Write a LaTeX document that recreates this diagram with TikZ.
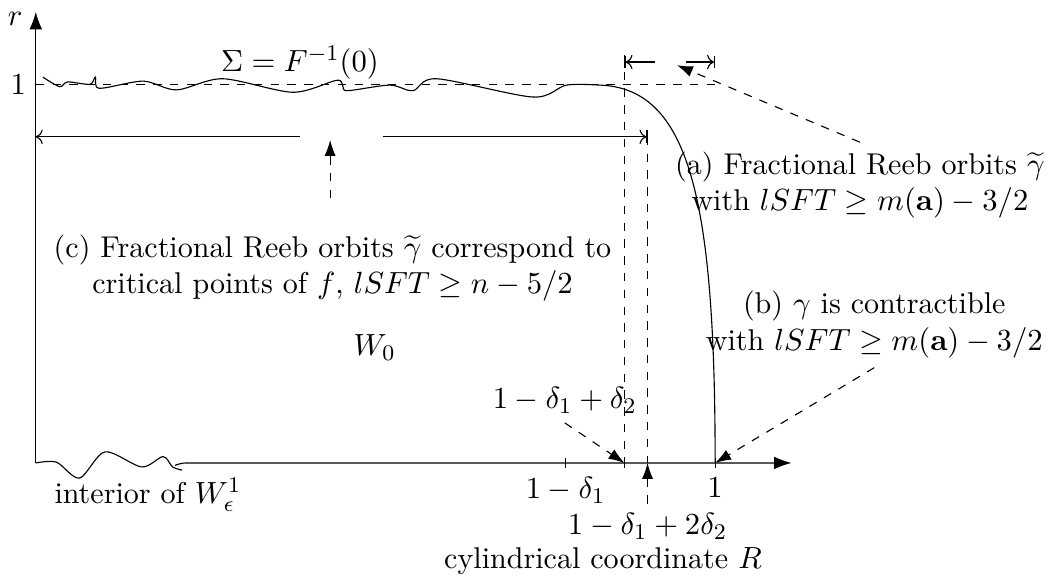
\documentclass[tikz,border=0pt]{standalone}
\usepackage{amsmath,amssymb}
\usepackage{tikz}
\usetikzlibrary{arrows.meta,calc}
\tikzset{
  guide/.style={dashed},
  pointer/.style={dashed,-{Latex[length=2mm,width=1.4mm]}},
  axis/.style={-{Latex[length=2.2mm,width=1.6mm]}},
}

\begin{document}
\begin{tikzpicture}[font=\fontsize{10.75}{13}\selectfont]
\useasboundingbox (-0.45,-1.52) rectangle (12.85,5.82);
\coordinate (O) at (0,0);
\coordinate (rtop) at (0,5.67);
\coordinate (Rend) at (9.5,0);
\coordinate (xa) at (6.66,0); % 1-delta_1
\coordinate (xb) at (7.40,0); % 1-delta_1+delta_2
\coordinate (xc) at (7.69,0); % 1-delta_1+2delta_2
\coordinate (xd) at (8.54,0); % 1
\coordinate (one) at (0,4.76);

% axes
\draw[axis] (O) -- (rtop);
\node (rlab) at (-0.26,5.58) {$r$};
\draw plot[smooth] coordinates {(0,0) (0.26,0.01) (0.55,-0.19) (0.87,0.14) (1.33,-0.05) (1.60,0.08) (1.72,-0.05) (1.84,-0.09)};
\draw[axis] (1.75,-0.03) to[out=20,in=180] (1.90,0) -- (Rend);
\foreach \p in {xa,xb,xd}
  \draw ($(\p)+(0,-0.06)$) -- ($(\p)+(0,0.06)$);

% level r=1 and the hypersurface
\node[left] (onelab) at (one) {$1$};
\draw[guide] (one) -- (xd |- one);
\draw plot[smooth] coordinates {(0.09,4.85) (0.30,4.73) (0.40,4.79) (0.68,4.76) (0.75,4.85) (0.80,4.71) (1.35,4.80) (1.77,4.69) (2.35,4.83) (3.23,4.66) (3.78,4.81) (3.86,4.74) (3.92,4.68) (4.45,4.75) (4.74,4.68) (5.04,4.83) (6.25,4.60) (6.67,4.75) (7.09,4.75)}
  .. controls (8.22,4.71) and (8.54,3.31) .. (xd);
\node (sigma) at (3.32,5.03) {$\Sigma=F^{-1}(0)$};

% vertical guides
\draw[guide] (7.40,5.13) -- (xb);
\draw[guide] (7.69,4.10) -- (xc);

% ranges
\draw[<-] (0,4.10) -- (3.32,4.10);
\draw[->|] (4.36,4.10) -- (7.69,4.10);
\draw[|<-] (7.40,5.04) -- (7.79,5.04);
\draw[->|] (8.17,5.04) -- (8.54,5.04);

% regions
\node (wzero) at (4.26,1.45) {$W_0$};
\node (inter) at (1.41,-0.40) {interior of $W^1_\epsilon$};

% labels on the R axis
\node (lblD) at (6.65,0.79) {$1-\delta_1+\delta_2$};
\draw[pointer] (lblD.south) -- (xb);
\node[below] (lblxa) at ($(xa)+(0,-0.06)$) {$1-\delta_1$};
\node[below] (lblxd) at ($(xd)+(0,-0.06)$) {$1$};
\node (lblE) at (7.69,-0.80) {$1-\delta_1+2\delta_2$};
\draw[pointer] (lblE.north) -- (xc);
\node (Rlab) at (7.13,-1.24) {cylindrical coordinate $R$};

% (a), (b), (c)
\node[align=center] (lblA) at (10.36,3.49) {(a) Fractional Reeb orbits $\widetilde{\gamma}$\\ with $lSFT\geq m(\mathbf{a})-3/2$};
\coordinate (tipA) at (8.06,5.00);
\draw[pointer] (lblA.north) -- (tipA);
\node[align=center] (lblB) at (10.54,1.74) {(b) $\gamma$ is contractible\\ with $lSFT\geq m(\mathbf{a})-3/2$};
\draw[pointer] (lblB.south) -- (xd);
\node[align=center] (lblC) at (3.73,2.45) {(c) Fractional Reeb orbits $\widetilde{\gamma}$ correspond to\\ critical points of $f$, $lSFT\geq n-5/2$};
\coordinate (srcC) at (3.70,3.33);
\coordinate (tipC) at (3.70,4.06);
\draw[pointer] (srcC) -- (tipC);
\end{tikzpicture}
\end{document}
